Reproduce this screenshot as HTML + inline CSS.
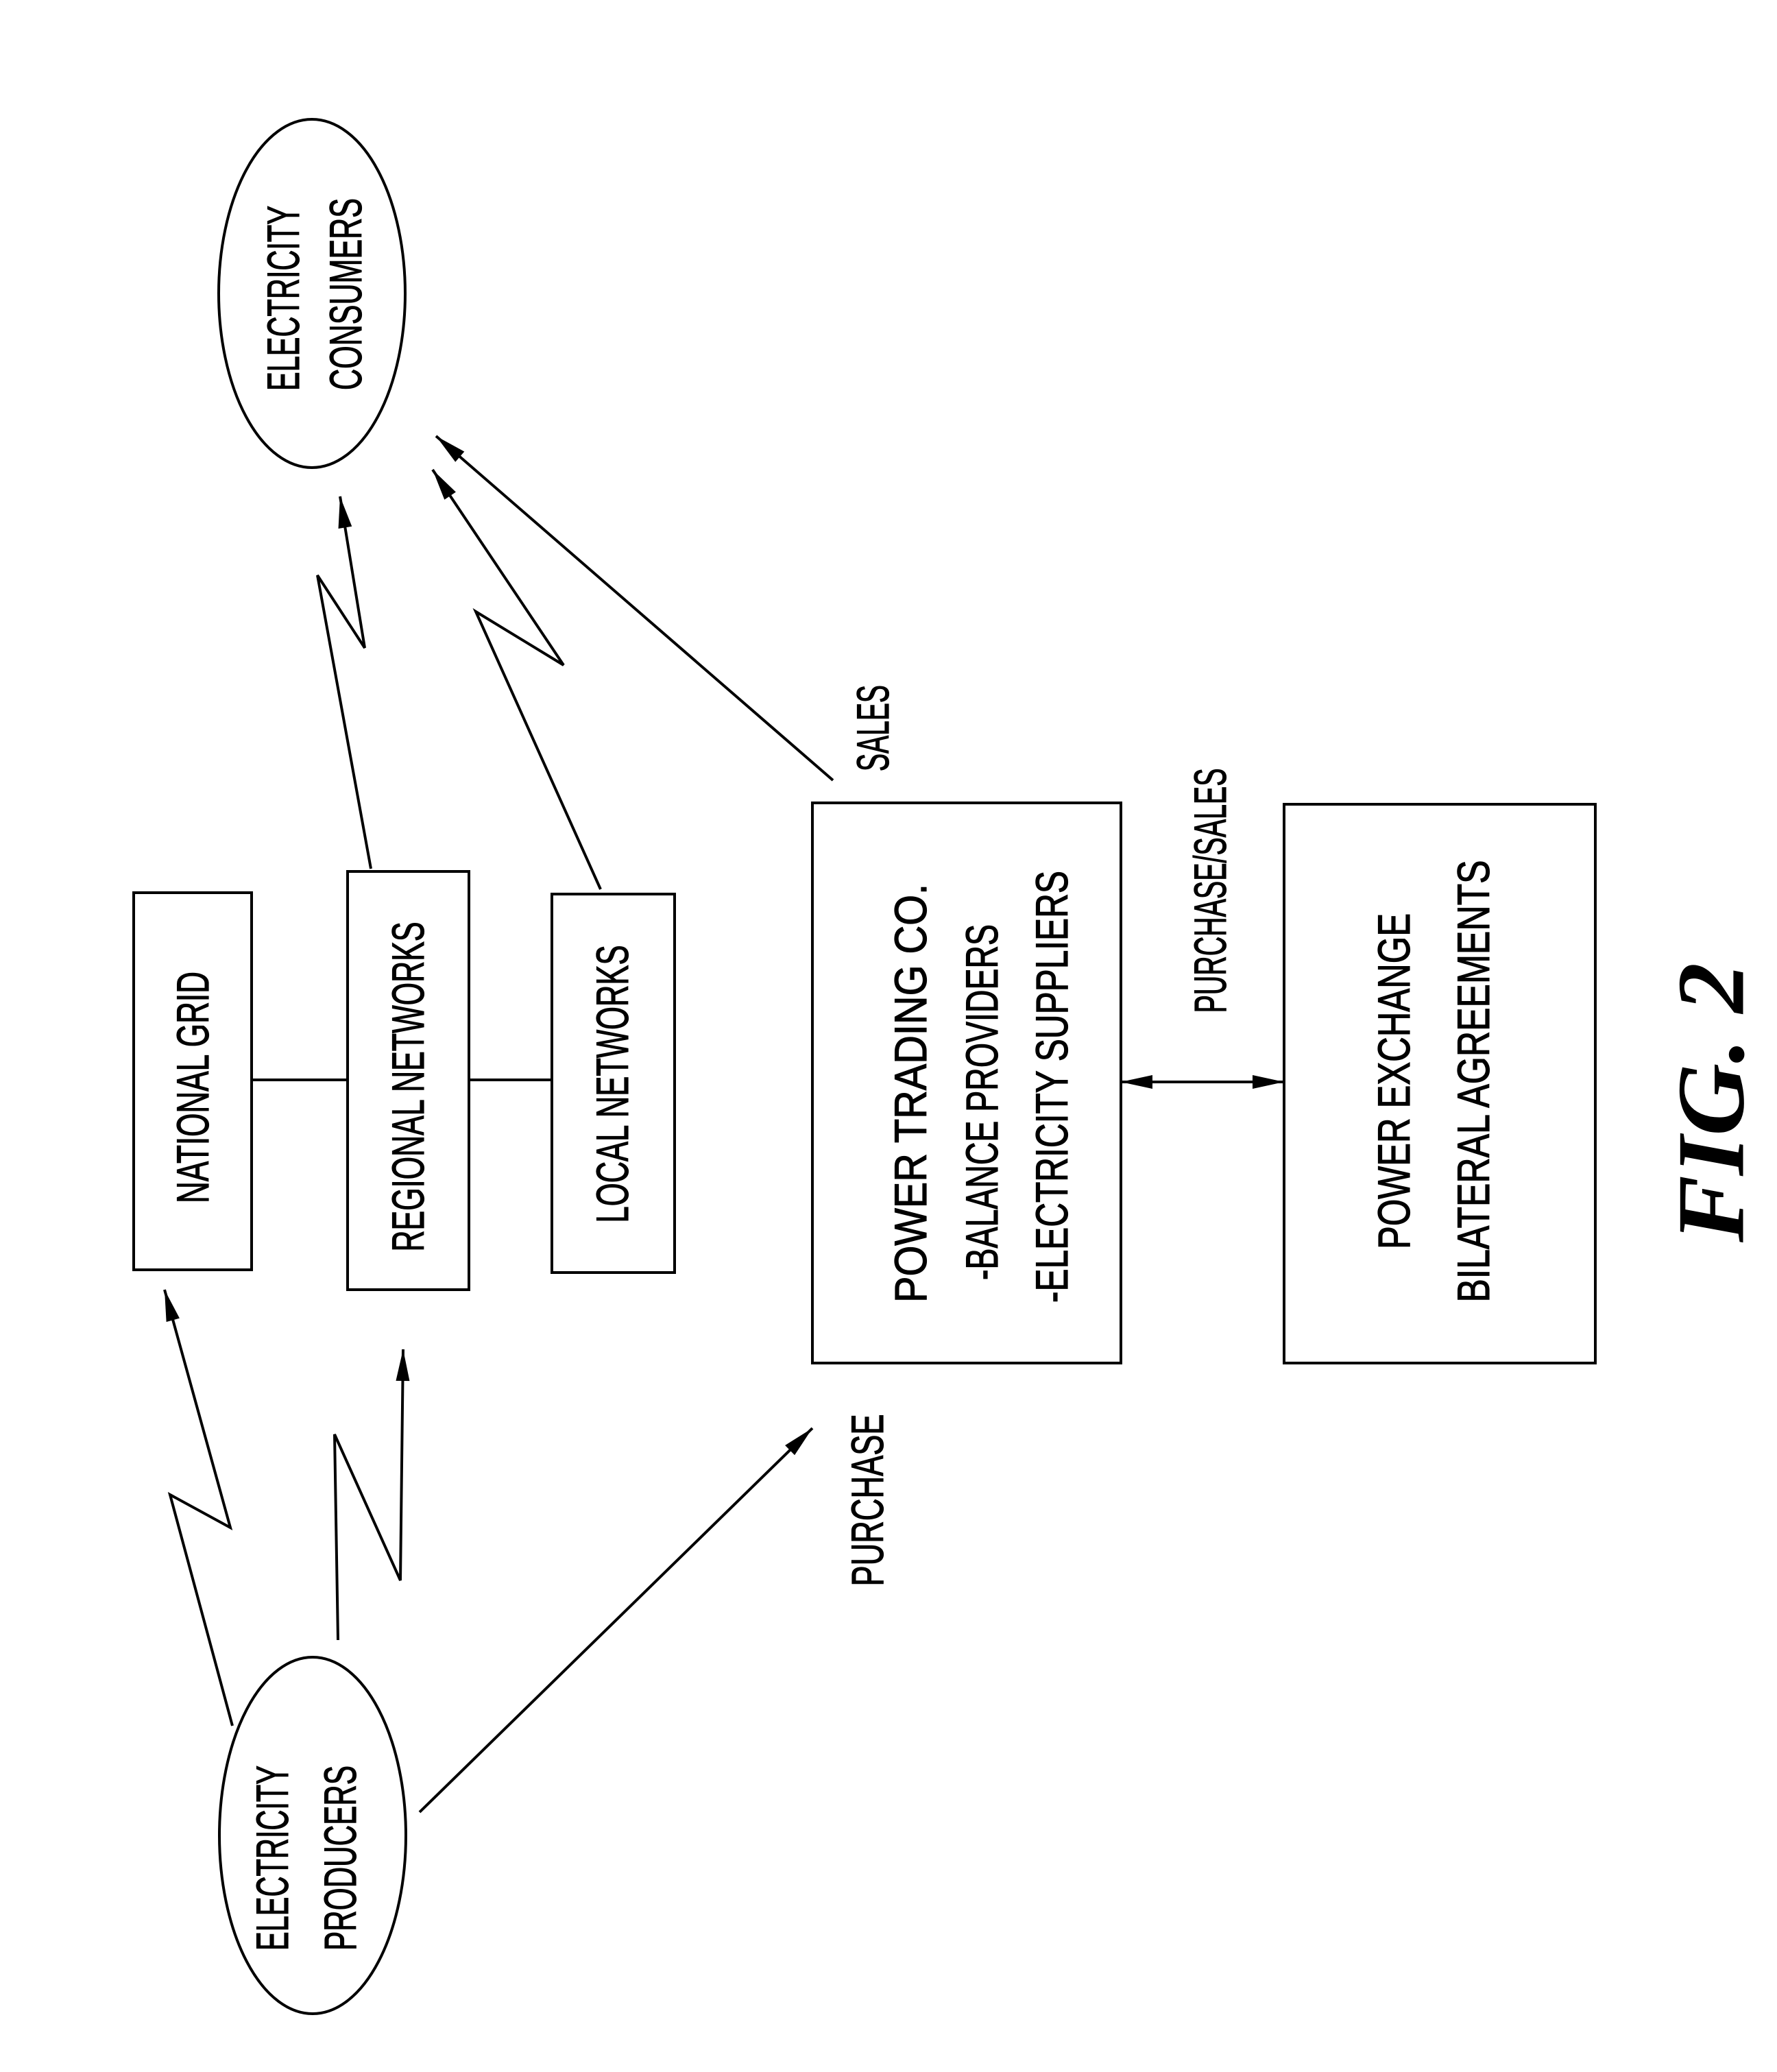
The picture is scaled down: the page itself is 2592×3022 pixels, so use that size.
<!DOCTYPE html>
<html><head><meta charset="utf-8"><style>html,body{margin:0;padding:0;background:#fff}svg{display:block}</style></head>
<body>
<svg width="2592" height="3022" viewBox="0 0 2592 3022" xmlns="http://www.w3.org/2000/svg">
<defs>
<marker id="h" markerWidth="1" markerHeight="1" markerUnits="userSpaceOnUse" orient="auto-start-reverse" refX="0" refY="0" style="overflow:visible">
<path d="M0,0 L-46,-10 L-46,10 Z" fill="#000"/>
</marker>
</defs>
<g fill="none" stroke="#000" stroke-width="4">
<rect x="195" y="1302" width="172" height="550"/>
<rect x="507" y="1271" width="177" height="610"/>
<rect x="805" y="1304" width="179" height="552"/>
<rect x="1185" y="1171" width="450" height="817"/>
<rect x="1873" y="1173" width="454" height="815"/>
<line x1="367" y1="1575" x2="507" y2="1575"/>
<line x1="684" y1="1575" x2="805" y2="1575"/>
<line x1="1635" y1="1578" x2="1873" y2="1578" marker-start="url(#h)" marker-end="url(#h)"/>
<ellipse cx="455" cy="428" rx="136" ry="254"/>
<ellipse cx="456" cy="2677" rx="136" ry="260"/>
<polyline points="1215,1138 636,636" marker-end="url(#h)"/>
<polyline points="876,1297 694,892 822,970 631,685" marker-end="url(#h)"/>
<polyline points="541,1267 463,839 532,945 496,724" marker-end="url(#h)"/>
<polyline points="339,2517 248,2180 336,2228 240,1881" marker-end="url(#h)"/>
<polyline points="493,2392 488,2092 584,2305 588,1968" marker-end="url(#h)"/>
<polyline points="612,2643 1185,2083" marker-end="url(#h)"/>
</g>
<g font-family="Liberation Sans, sans-serif" font-size="66" fill="#000" stroke="#000" stroke-width="1.2" dominant-baseline="central">
<text transform="translate(281,1586) rotate(-90)" text-anchor="middle" textLength="338" lengthAdjust="spacingAndGlyphs">NATIONAL GRID</text>
<text transform="translate(595,1585) rotate(-90)" text-anchor="middle" textLength="481" lengthAdjust="spacingAndGlyphs">REGIONAL NETWORKS</text>
<text transform="translate(893,1581) rotate(-90)" text-anchor="middle" textLength="405" lengthAdjust="spacingAndGlyphs">LOCAL NETWORKS</text>
<text transform="translate(1328,1900) rotate(-90)" textLength="611" lengthAdjust="spacingAndGlyphs">POWER TRADING CO.</text>
<text transform="translate(1432,1867) rotate(-90)" textLength="519" lengthAdjust="spacingAndGlyphs">-BALANCE PROVIDERS</text>
<text transform="translate(1534,1900) rotate(-90)" textLength="630" lengthAdjust="spacingAndGlyphs">-ELECTRICITY SUPPLIERS</text>
<text transform="translate(2033,1577) rotate(-90)" text-anchor="middle" textLength="490" lengthAdjust="spacingAndGlyphs">POWER EXCHANGE</text>
<text transform="translate(2149,1577) rotate(-90)" text-anchor="middle" textLength="645" lengthAdjust="spacingAndGlyphs">BILATERAL AGREEMENTS</text>
<text transform="translate(413,435) rotate(-90)" text-anchor="middle" textLength="270" lengthAdjust="spacingAndGlyphs">ELECTRICITY</text>
<text transform="translate(504,429) rotate(-90)" text-anchor="middle" textLength="280" lengthAdjust="spacingAndGlyphs">CONSUMERS</text>
<text transform="translate(397,2710) rotate(-90)" text-anchor="middle" textLength="270" lengthAdjust="spacingAndGlyphs">ELECTRICITY</text>
<text transform="translate(496,2710) rotate(-90)" text-anchor="middle" textLength="270" lengthAdjust="spacingAndGlyphs">PRODUCERS</text>
<text transform="translate(1273,1062) rotate(-90)" text-anchor="middle" textLength="126" lengthAdjust="spacingAndGlyphs">SALES</text>
<text transform="translate(1265,2188) rotate(-90)" text-anchor="middle" textLength="251" lengthAdjust="spacingAndGlyphs">PURCHASE</text>
<text transform="translate(1765,1299) rotate(-90)" text-anchor="middle" textLength="357" lengthAdjust="spacingAndGlyphs">PURCHASE/SALES</text>
</g>
<text transform="translate(2496,1608) rotate(-90)" text-anchor="middle" dominant-baseline="central" font-family="Liberation Serif, serif" font-style="italic" font-weight="bold" font-size="140" fill="#000" textLength="408" lengthAdjust="spacingAndGlyphs">FIG. 2</text>
</svg>
</body></html>
